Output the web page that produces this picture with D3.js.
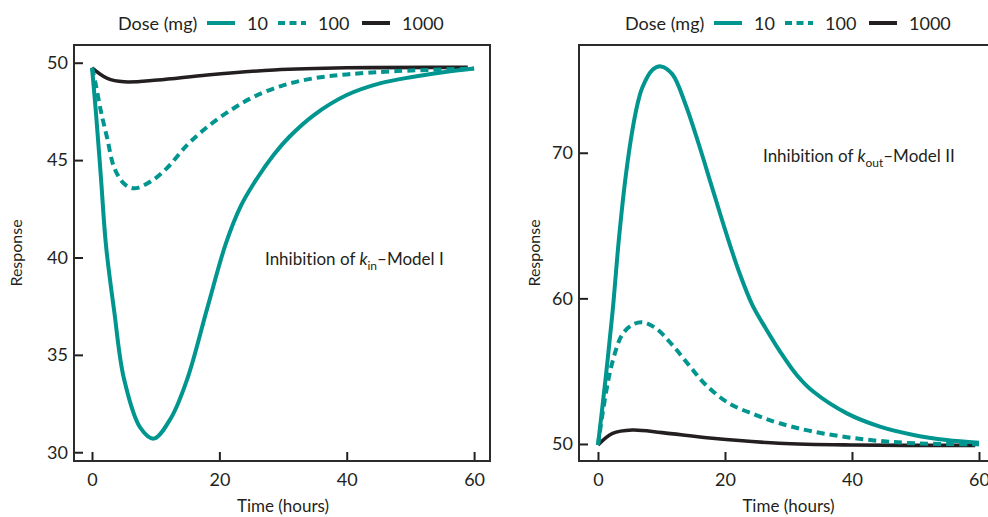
<!DOCTYPE html>
<html>
<head>
<meta charset="utf-8">
<script src="https://cdn.jsdelivr.net/npm/d3@7"></script>
<style>
  html, body { margin: 0; padding: 0; background: #fff; }
  svg { display: block; font-family: "Lato", "Open Sans", sans-serif; font-variant-ligatures: none; }
</style>
</head>
<body>
<svg id="chart" width="988" height="517"></svg>
<script>
// ---------------- DATA ----------------
const doses = ["10", "100", "1000"];
const legendTitle = "Dose (mg)";
const xTicks = [0, 20, 40, 60];
const yTicksModel1 = [30, 35, 40, 45, 50];
const yTicksModel2 = [50, 60, 70];

// Model I : inhibition of kin
const m1_t10   = [0, 0.6, 1.4, 2.2, 3.5, 5, 7.6, 9.7, 12.4, 15, 18.1, 21, 23.3, 25.4, 28.6, 31, 34.8, 40, 45.2, 50.5, 55.7, 60];
const m1_v10   = [49.74, 47.5, 44.1, 40.6, 37.2, 33.8, 31.25, 30.7, 31.76, 33.8, 37.4, 40.7, 42.6, 43.8, 45.3, 46.2, 47.3, 48.34, 48.94, 49.28, 49.54, 49.7];
const m1_t100  = [0, 0.6, 1.4, 2.4, 3.5, 5, 6.6, 9.2, 11.8, 15, 18.1, 21.8, 25.4, 30, 34.8, 40, 47.9, 60];
const m1_v100  = [49.74, 48.86, 47.5, 46.1, 44.6, 43.8, 43.55, 43.9, 44.6, 45.8, 46.7, 47.57, 48.25, 48.84, 49.2, 49.4, 49.57, 49.7];
const m1_t1000 = [0, 2.4, 5, 10.3, 18.1, 28.6, 40, 59];
const m1_v1000 = [49.74, 49.2, 49.02, 49.11, 49.37, 49.63, 49.74, 49.76];

// Model II : inhibition of kout
const m2_t10   = [0, 1.2, 2.3, 3.3, 4.4, 5.4, 6.2, 7, 8.6, 9.9, 11.7, 13.8, 15.9, 18, 20.1, 22.2, 24.3, 26.4, 28.6, 31.3, 33.9, 39.2, 44.4, 49.7, 54.9, 60];
const m2_v10   = [49.93, 54.5, 59.1, 64.1, 68.5, 71.5, 73.3, 74.5, 75.7, 75.93, 75.4, 73.3, 70.55, 67.57, 64.6, 61.84, 59.55, 57.95, 56.4, 54.74, 53.6, 52.1, 51.19, 50.62, 50.27, 50.09];
const m2_t100  = [0, 1.2, 2.3, 3.8, 5.4, 7, 9.1, 11.7, 14.3, 17, 20.6, 24.8, 28.6, 33.9, 41.8, 49.7, 60];
const m2_v100  = [49.93, 53.37, 55.66, 57.5, 58.18, 58.36, 57.95, 56.8, 55.43, 54.05, 52.8, 52.0, 51.42, 50.85, 50.32, 50.05, 49.98];
const m2_t1000 = [0, 2.3, 5.4, 10.1, 18, 28.5, 40, 59.4];
const m2_v1000 = [49.93, 50.73, 50.96, 50.78, 50.39, 50.05, 49.93, 49.9];

// ---------------- STYLE ----------------
const TEAL = "#00958f";
const BLACK = "#231f20";
const seriesStyle = {
  "10":   { color: TEAL,  width: 4,   dash: null },
  "100":  { color: TEAL,  width: 4,   dash: "8,5" },
  "1000": { color: BLACK, width: 3.6, dash: null }
};

const svg = d3.select("#chart");

function zip(t, v) { return t.map((d, i) => ({ t: d, v: v[i] })); }

function panel(cfg) {
  const x = d3.scaleLinear().domain(cfg.xDomain).range([cfg.left, cfg.right]);
  const y = d3.scaleLinear().domain(cfg.yDomain).range([cfg.bottom, cfg.top]);
  const g = svg.append("g");

  const clipId = "clip" + cfg.id;
  g.append("clipPath").attr("id", clipId)
    .append("rect").attr("x", cfg.left).attr("y", cfg.top)
    .attr("width", cfg.right - cfg.left).attr("height", cfg.bottom - cfg.top);

  const xa = g.append("g").attr("transform", `translate(0,${cfg.bottom})`)
    .call(d3.axisBottom(x).tickValues(xTicks).tickSize(-9).tickPadding(12));
  const ya = g.append("g").attr("transform", `translate(${cfg.left},0)`)
    .call(d3.axisLeft(y).tickValues(cfg.yTicks).tickSize(-9).tickPadding(6));
  [xa, ya].forEach(a => {
    a.select(".domain").remove();
    a.selectAll(".tick line").attr("stroke", "#231f20").attr("stroke-width", 2);
    a.selectAll(".tick text").attr("fill", "#231f20").style("font-size", "18px")
      .style("font-family", "Lato, sans-serif");
  });

  g.append("rect").attr("x", cfg.left).attr("y", cfg.top)
    .attr("width", cfg.right - cfg.left).attr("height", cfg.bottom - cfg.top)
    .attr("fill", "none").attr("stroke", "#2b2b2b").attr("stroke-width", 2);

  const line = d3.line().x(d => x(d.t)).y(d => y(d.v)).curve(d3.curveCatmullRom.alpha(0.5));
  const lg = g.append("g").attr("clip-path", `url(#${clipId})`);
  cfg.series.slice().reverse().forEach(s => {
    const st = seriesStyle[s.dose];
    lg.append("path").datum(zip(s.t, s.v))
      .attr("d", line).attr("fill", "none")
      .attr("stroke", st.color).attr("stroke-width", st.width)
      .attr("stroke-dasharray", st.dash)
      .attr("stroke-linejoin", "round");
  });

  g.append("text").attr("x", x(30)).attr("y", 512)
    .attr("text-anchor", "middle").attr("fill", "#231f20")
    .style("font-size", "17px").text("Time (hours)");
  g.append("text")
    .attr("transform", `translate(${cfg.ylabX},253) rotate(-90)`)
    .attr("text-anchor", "middle").attr("fill", "#231f20")
    .style("font-size", "16px").text("Response");

  const ann = g.append("text").attr("x", cfg.annX).attr("y", cfg.annY)
    .attr("fill", "#231f20").style("font-size", "17px");
  ann.append("tspan").text("Inhibition of ");
  ann.append("tspan").attr("font-style", "italic").text("k");
  ann.append("tspan").attr("dy", 5).style("font-size", "12px").text(cfg.sub);
  ann.append("tspan").attr("dy", -5).text(cfg.annRest);

  const lgd = g.append("g").attr("transform", `translate(${cfg.legX},0)`);
  lgd.append("text").attr("x", 0).attr("y", 30).attr("fill", "#231f20")
    .style("font-size", "18px").text(legendTitle);
  const itemX = [89, 160, 244];
  doses.forEach((d, i) => {
    const st = seriesStyle[d];
    lgd.append("line").attr("x1", itemX[i]).attr("x2", itemX[i] + 28)
      .attr("y1", 23).attr("y2", 23)
      .attr("stroke", st.color).attr("stroke-width", 4)
      .attr("stroke-dasharray", st.dash ? "7,4.5" : null);
    lgd.append("text").attr("x", itemX[i] + 40).attr("y", 30)
      .attr("fill", "#231f20").style("font-size", "18px").text(d);
  });
}

panel({
  id: 1, left: 74, right: 490, top: 45, bottom: 461,
  xDomain: [-2.83, 62.5], yDomain: [29.55, 50.91], yTicks: yTicksModel1,
  ylabX: 22, annX: 265, annY: 265, sub: "in", annRest: "–Model I", legX: 118,
  series: [
    { dose: "10", t: m1_t10, v: m1_v10 },
    { dose: "100", t: m1_t100, v: m1_v100 },
    { dose: "1000", t: m1_t1000, v: m1_v1000 }
  ]
});

panel({
  id: 2, left: 579, right: 996, top: 45, bottom: 461,
  xDomain: [-2.99, 62.68], yDomain: [48.83, 77.4], yTicks: yTicksModel2,
  ylabX: 540, annX: 763, annY: 162, sub: "out", annRest: "–Model II", legX: 625,
  series: [
    { dose: "10", t: m2_t10, v: m2_v10 },
    { dose: "100", t: m2_t100, v: m2_v100 },
    { dose: "1000", t: m2_t1000, v: m2_v1000 }
  ]
});
</script>
</body>
</html>
